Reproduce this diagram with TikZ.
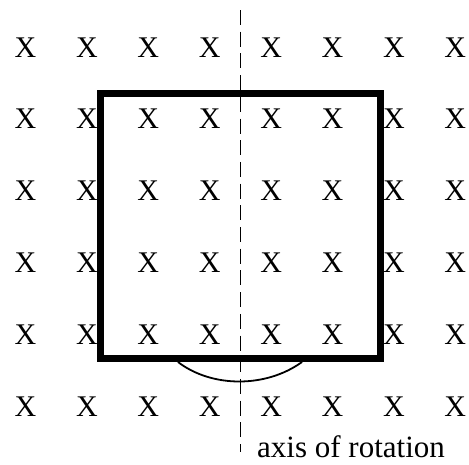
\documentclass[tikz,border=0pt]{standalone}
\usepackage{fontspec}
\setmainfont{Liberation Serif}
\begin{document}
\begin{tikzpicture}[x=1pt,y=-1pt,
  xmark/.style={inner sep=0pt,anchor=base,font=\fontsize{30}{35}\selectfont},
  loop/.style={line width=7pt,line join=miter},
  axisline/.style={line width=1.8pt,dash pattern=on 15pt off 6.7pt},
  arcline/.style={line width=1.8pt}]
\useasboundingbox (0,0) rectangle (469,464);
\foreach \r in {0,...,5}{
  \foreach \c in {0,...,7}{
    \node[xmark] (x\r\c) at ({25.5+61.4*\c},{57+71.8*\r}) {X};
  }
}
\coordinate (sqtl) at (100.5,93.5);
\coordinate (sqbr) at (380,358.5);
\draw[loop] (sqtl) rectangle (sqbr);
\coordinate (arcl) at (178,362);
\coordinate (arcr) at (302,362);
\draw[arcline] (arcl) .. controls (212,388) and (266,388) .. (arcr);
\coordinate (axtop) at (240.5,10);
\coordinate (axbot) at (240.5,452);
\draw[axisline] (axtop) -- (axbot);
\node[inner sep=0pt,anchor=base west,font=\fontsize{31}{36}\selectfont] (lbl) at (257,457) {axis of rotation};
\end{tikzpicture}
\end{document}
